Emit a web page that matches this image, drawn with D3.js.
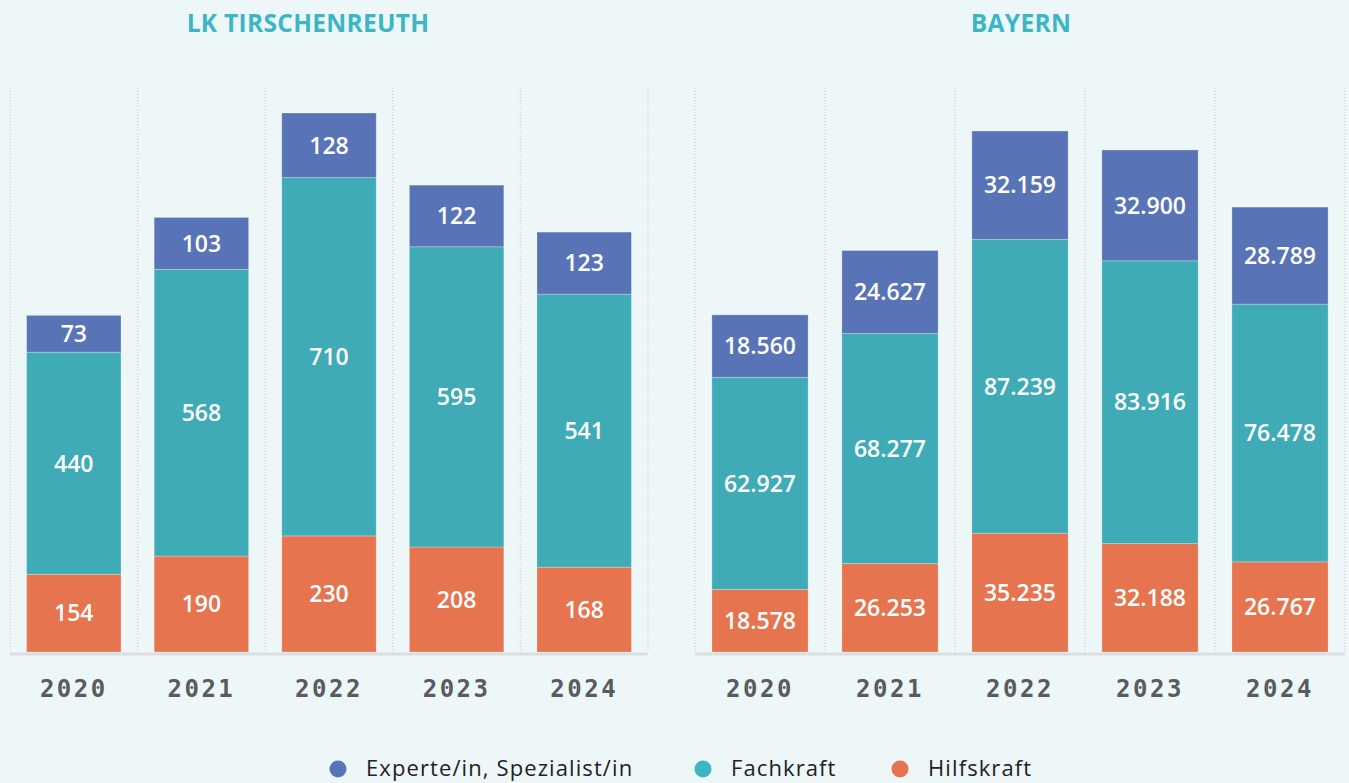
<!DOCTYPE html>
<html>
<head>
<meta charset="utf-8">
<script src="https://cdn.jsdelivr.net/npm/d3@7"></script>
<style>
  html, body { margin: 0; padding: 0; background: #eef7f8; }
  svg { display: block; }
</style>
</head>
<body>
<svg id="chart" width="1349" height="783"></svg>
<script>
const years = ["2020", "2021", "2022", "2023", "2024"];
const seriesNames = ["Experte/in, Spezialist/in", "Fachkraft", "Hilfskraft"];
const panelTitles = ["LK TIRSCHENREUTH", "BAYERN"];

const tirExperte = [73, 103, 128, 122, 123];
const tirFachkraft = [440, 568, 710, 595, 541];
const tirHilfskraft = [154, 190, 230, 208, 168];

const bayExperte = [18560, 24627, 32159, 32900, 28789];
const bayFachkraft = [62927, 68277, 87239, 83916, 76478];
const bayHilfskraft = [18578, 26253, 35235, 32188, 26767];

const colors = { "Experte/in, Spezialist/in": "#5874b6", "Fachkraft": "#3fabb7", "Hilfskraft": "#e5744f" };
const legendColors = { "Experte/in, Spezialist/in": "#5874b6", "Fachkraft": "#3bb7c3", "Hilfskraft": "#e5744f" };

const de = d3.formatLocale({ decimal: ",", thousands: ".", grouping: [3], currency: ["", " €"] });
const fmt = de.format(",d");

const svg = d3.select("#chart");

const panels = [
  { title: panelTitles[0], titleX: 308, x0: 10, x1: 648, yTop: 113,
    data: years.map((y, i) => ({ year: y, "Hilfskraft": tirHilfskraft[i], "Fachkraft": tirFachkraft[i], "Experte/in, Spezialist/in": tirExperte[i] })) },
  { title: panelTitles[1], titleX: 1021, x0: 695, x1: 1345, yTop: 131,
    data: years.map((y, i) => ({ year: y, "Hilfskraft": bayHilfskraft[i], "Fachkraft": bayFachkraft[i], "Experte/in, Spezialist/in": bayExperte[i] })) }
];

const baseY = 652;
const gridTop = 88;
const stackKeys = ["Hilfskraft", "Fachkraft", "Experte/in, Spezialist/in"];

panels.forEach(p => {
  const g = svg.append("g");
  const x = d3.scaleBand().domain(years).range([p.x0, p.x1]).paddingInner(0.26).paddingOuter(0.13);
  const totals = p.data.map(d => stackKeys.reduce((s, k) => s + d[k], 0));
  const y = d3.scaleLinear().domain([0, d3.max(totals)]).range([baseY, p.yTop]);

  g.append("text")
    .attr("x", p.titleX).attr("y", 32)
    .attr("text-anchor", "middle")
    .attr("font-family", "'Open Sans', sans-serif")
    .attr("font-weight", 700)
    .attr("font-size", 24.5)
    .attr("letter-spacing", 0.3)
    .attr("fill", "#3bb6c4")
    .text(p.title);

  const step = x.step();
  const bounds = d3.range(years.length + 1).map(i => p.x0 + i * step);
  g.selectAll("line.grid").data(bounds).join("line")
    .attr("class", "grid")
    .attr("x1", d => d).attr("x2", d => d)
    .attr("y1", gridTop).attr("y2", baseY)
    .attr("stroke", "#d2d8d9")
    .attr("stroke-width", 1.5)
    .attr("stroke-dasharray", "1,2");

  const stack = d3.stack().keys(stackKeys)(p.data);
  const layers = g.selectAll("g.layer").data(stack).join("g")
    .attr("class", "layer")
    .attr("fill", d => colors[d.key]);
  layers.selectAll("rect").data(d => d).join("rect")
    .attr("x", d => x(d.data.year))
    .attr("width", x.bandwidth())
    .attr("y", d => y(d[1]))
    .attr("height", d => y(d[0]) - y(d[1]))
    .attr("stroke", "rgba(255,255,255,0.25)")
    .attr("stroke-width", 1);

  layers.selectAll("text").data(d => d).join("text")
    .attr("x", d => x(d.data.year) + x.bandwidth() / 2)
    .attr("y", d => (y(d[0]) + y(d[1])) / 2)
    .attr("dy", "0.36em")
    .attr("text-anchor", "middle")
    .attr("font-family", "'Open Sans', sans-serif")
    .attr("font-weight", 600)
    .attr("font-size", 23)
    .attr("fill", "#ffffff")
    .text(d => fmt(d[1] - d[0]));

  g.append("line")
    .attr("x1", p.x0).attr("x2", p.x1)
    .attr("y1", baseY + 2).attr("y2", baseY + 2)
    .attr("stroke", "#d9dfe0")
    .attr("stroke-width", 3);

  g.selectAll("text.year").data(years).join("text")
    .attr("class", "year")
    .attr("x", d => x(d) + x.bandwidth() / 2)
    .attr("y", 697)
    .attr("text-anchor", "middle")
    .attr("font-family", "'DejaVu Sans Mono', monospace")
    .attr("font-weight", 700)
    .attr("font-size", 24)
    .attr("letter-spacing", 2.5)
    .attr("fill", "#595b5c")
    .text(d => d);
});

const legendPos = [338, 703, 900];
const legend = svg.append("g");
seriesNames.forEach((name, i) => {
  legend.append("circle")
    .attr("cx", legendPos[i]).attr("cy", 769).attr("r", 8.5)
    .attr("fill", legendColors[name]);
  legend.append("text")
    .attr("x", legendPos[i] + 28).attr("y", 776)
    .attr("font-family", "'Open Sans', sans-serif")
    .attr("font-size", 22)
    .attr("letter-spacing", 1.1)
    .attr("fill", "#222222")
    .text(name);
});
</script>
</body>
</html>
